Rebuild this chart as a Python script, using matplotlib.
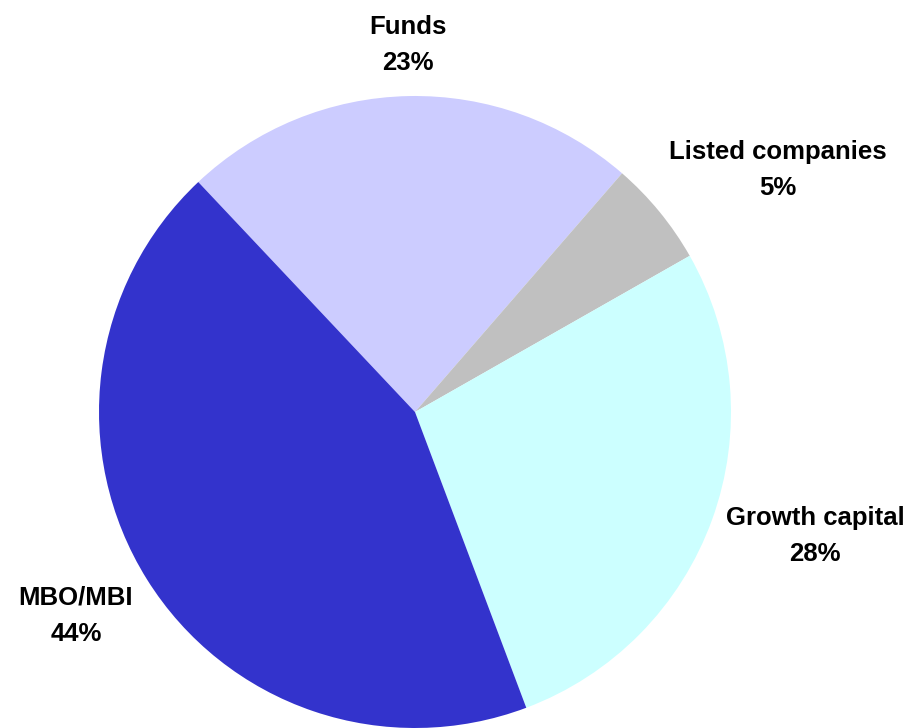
import matplotlib.pyplot as plt

# shares (clockwise from Funds)
labels = ['Funds', 'Listed companies', 'Growth capital', 'MBO/MBI']
shares = [23.4, 5.4, 27.5, 43.7]
pct_text = ['23%', '5%', '28%', '44%']
colors = ['#CCCCFF', '#C0C0C0', '#CCFFFF', '#3333CC']

# label anchor points (pixel coords, origin bottom-left)
label_pos = [(408, 683), (778, 558), (815, 192), (76, 112)]

plt.rcParams['font.family'] = ['Liberation Sans', 'DejaVu Sans']

fig = plt.figure(figsize=(9.11, 7.28), dpi=100)
ax = fig.add_axes([0, 0, 1, 1])

ax.pie(shares, colors=colors, startangle=133.3, counterclock=False,
       center=(415, 316), radius=316, wedgeprops=dict(linewidth=0),
       frame=True)
ax.set_xlim(0, 911)
ax.set_ylim(0, 728)
ax.set_aspect('equal')
ax.axis('off')

for lab, pct, (x, y) in zip(labels, pct_text, label_pos):
    ax.text(x, y, lab + '\n' + pct, ha='center', va='center',
            fontsize=18.5, fontweight='bold', linespacing=1.65)

fig.savefig('out.png', dpi=100)
